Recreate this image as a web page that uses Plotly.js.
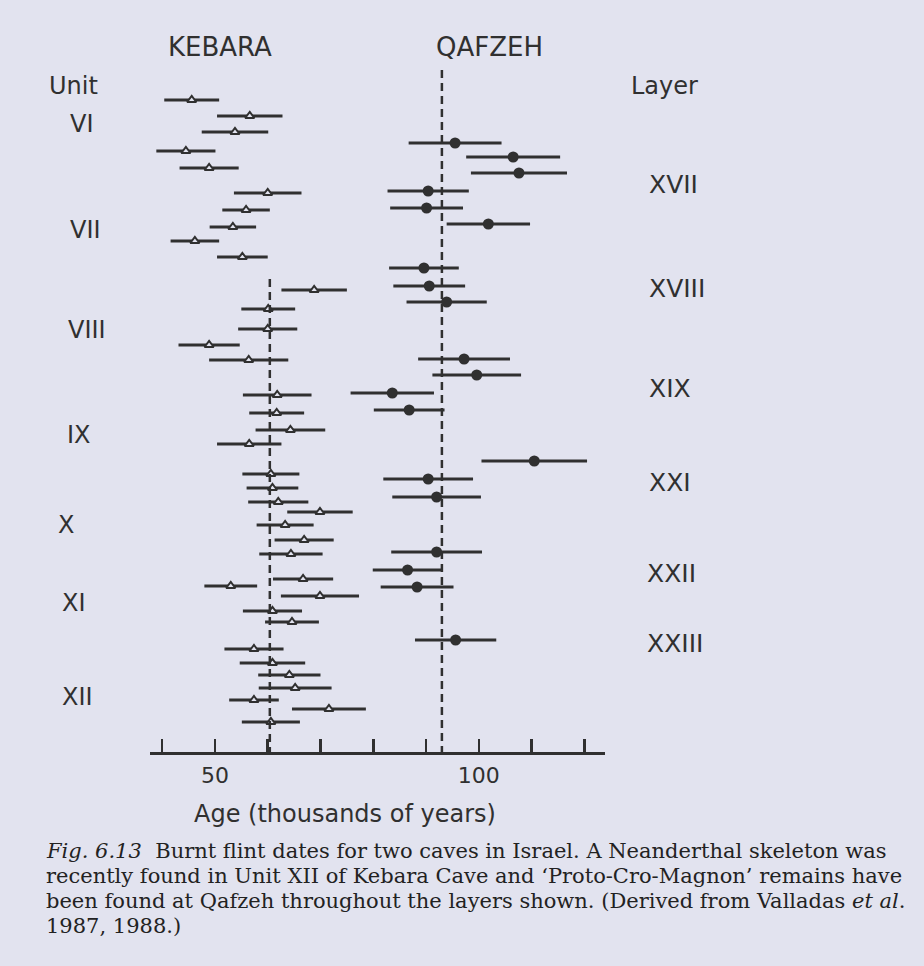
<!DOCTYPE html>
<html>
<head>
<meta charset="utf-8">
<script src="https://cdn.plot.ly/plotly-3.0.1.min.js"></script>
<style>
  html, body { margin: 0; padding: 0; background: #e2e3ef; }
  #chart { width: 924px; height: 966px; }
</style>
</head>
<body>
<div id="chart"></div>
<script>
// ---------------- DATA ----------------
// Kebara: burnt flint dates (thousands of years), error (±), relative depth (top -> bottom)
const kebaraAge = [45.6, 56.6, 53.8, 44.5, 48.9, 60.0, 55.9, 53.4, 46.2, 55.2,
                   68.8, 60.1, 60.0, 48.9, 56.4, 61.8, 61.7, 64.3, 56.5, 60.6,
                   60.9, 62.0, 69.9, 63.3, 66.9, 64.4, 66.7, 53.0, 69.9, 60.9,
                   64.6, 57.4, 60.9, 64.1, 65.2, 57.4, 71.6, 60.6];
const kebaraErr = [5.2, 6.2, 6.3, 5.6, 5.6, 6.4, 4.5, 4.4, 4.6, 4.8,
                   6.2, 5.1, 5.6, 5.8, 7.5, 6.5, 5.2, 6.6, 6.1, 5.4,
                   4.9, 5.7, 6.2, 5.4, 5.6, 6.0, 5.7, 5.0, 7.4, 5.6,
                   5.1, 5.6, 6.2, 5.9, 6.9, 4.7, 7.0, 5.5];
const kebaraDepth = [0.0, 1.6, 3.2, 5.1, 6.8, 9.3, 11.0, 12.7, 14.1, 15.7,
                     19.0, 20.9, 22.9, 24.5, 26.0, 29.5, 31.3, 33.0, 34.4, 37.4,
                     38.8, 40.2, 41.2, 42.5, 44.0, 45.4, 47.9, 48.6, 49.6, 51.1,
                     52.2, 54.9, 56.3, 57.5, 58.8, 60.0, 60.9, 62.2];

// Qafzeh
const qafzehAge = [95.5, 106.5, 107.6, 90.4, 90.1, 101.8, 89.6, 90.6, 93.9, 97.2,
                   99.6, 83.6, 86.8, 110.5, 90.4, 92.0, 92.0, 86.5, 88.3, 95.6];
const qafzehErr = [8.8, 8.9, 9.1, 7.7, 6.9, 7.9, 6.6, 6.8, 7.6, 8.7,
                   8.4, 7.9, 6.7, 10.0, 8.5, 8.4, 8.6, 6.6, 6.9, 7.7];
const qafzehDepth = [4.3, 5.7, 7.3, 9.1, 10.8, 12.4, 16.8, 18.6, 20.2, 25.9,
                     27.5, 29.3, 31.0, 36.1, 37.9, 39.7, 45.2, 47.0, 48.7, 54.0];

// Mean ages (dashed lines)
const kebaraMean = 60.4;
const qafzehMean = 93.0;

// Axis ticks
const tickValues = [40, 50, 60, 70, 80, 90, 100, 110, 120];
const tickLabels = ['', '50', '', '', '', '', '100', '', ''];

// Stratigraphic labels
const kebaraUnits = ['VI', 'VII', 'VIII', 'IX', 'X', 'XI', 'XII'];
const qafzehLayers = ['XVII', 'XVIII', 'XIX', 'XXI', 'XXII', 'XXIII'];

// ---------------- LAYOUT HELPERS ----------------
const W = 924, H = 966;
const PL = 150, PR = 605, PT = 40, PB = 752;
const px = x => (x - PL) / (PR - PL);
const py = y => (PB - y) / (PB - PT);
const ink = '#303030';
const bg = '#e2e3ef';
const sans = 'DejaVu Sans, sans-serif';
const serif = 'DejaVu Serif, Liberation Serif, serif';

const unitPos = [[68,124],[68,230],[66,330],[65,435],[56,525],[60,603],[60,697]];
const layerPos = [[647,185],[647,288],[647,388],[647,483],[645,573],[645,643]];

const traces = [
  {
    type: 'scatter', mode: 'markers',
    x: kebaraAge, y: kebaraDepth,
    error_x: { type: 'data', array: kebaraErr, visible: true, color: ink, thickness: 3, width: 0 },
    marker: { symbol: 'triangle-up', size: 8, color: bg, line: { color: ink, width: 2 } },
    cliponaxis: false, hoverinfo: 'x'
  },
  {
    type: 'scatter', mode: 'markers',
    x: qafzehAge, y: qafzehDepth,
    error_x: { type: 'data', array: qafzehErr, visible: true, color: ink, thickness: 3, width: 0 },
    marker: { symbol: 'circle', size: 11, color: ink, line: { width: 0 } },
    cliponaxis: false, hoverinfo: 'x'
  }
];

const annotations = [];
function txt(text, x, y, size, opts = {}) {
  annotations.push(Object.assign({
    text: text, xref: 'paper', yref: 'paper', x: px(x), y: py(y),
    xanchor: 'center', yanchor: 'middle', showarrow: false,
    font: { family: sans, size: size, color: ink }
  }, opts));
}
txt('KEBARA', 220, 47, 26);
txt('QAFZEH', 489, 47, 26);
txt('Unit', 47, 86, 24, { xanchor: 'left' });
txt('Layer', 629, 86, 24, { xanchor: 'left' });
kebaraUnits.forEach((u, i) => txt(u, unitPos[i][0], unitPos[i][1], 24, { xanchor: 'left' }));
qafzehLayers.forEach((l, i) => txt(l, layerPos[i][0], layerPos[i][1], 25, { xanchor: 'left' }));
txt('Age (thousands of years)', 345, 814, 24);

const capFont = { family: serif, size: 21, color: '#222' };
const capLines = [
  '<i>Fig. 6.13</i>  Burnt flint dates for two caves in Israel. A Neanderthal skeleton was',
  'recently found in Unit XII of Kebara Cave and ‘Proto-Cro-Magnon’ remains have',
  'been found at Qafzeh throughout the layers shown. (Derived from Valladas <i>et al</i>.',
  '1987, 1988.)'
];
capLines.forEach((t, i) => txt(t, 44, 851 + 25 * i, 21, { xanchor: 'left', font: capFont }));

const layout = {
  width: W, height: H,
  paper_bgcolor: bg, plot_bgcolor: bg,
  margin: { l: PL, r: W - PR, t: PT, b: H - PB },
  showlegend: false,
  xaxis: {
    range: [37.7, 123.9], fixedrange: true,
    showgrid: false, zeroline: false,
    showline: true, linecolor: ink, linewidth: 3,
    ticks: 'inside', ticklen: 13, tickwidth: 2.5, tickcolor: ink,
    tickmode: 'array', tickvals: tickValues, ticktext: tickLabels,
    tickfont: { family: sans, size: 22, color: ink },
    ticklabelstandoff: 2
  },
  yaxis: {
    range: [65.2, -6], visible: false, fixedrange: true,
    showgrid: false, zeroline: false
  },
  shapes: [
    { type: 'line', xref: 'x', yref: 'y', x0: kebaraMean, x1: kebaraMean, y0: 17.9, y1: 65.2,
      line: { color: ink, width: 2.5, dash: '8px,5px' } },
    { type: 'line', xref: 'x', yref: 'y', x0: qafzehMean, x1: qafzehMean, y0: -3, y1: 65.2,
      line: { color: ink, width: 2.5, dash: '8px,5px' } }
  ],
  annotations: annotations
};

Plotly.newPlot('chart', traces, layout, { displayModeBar: false, staticPlot: true });
</script>
</body>
</html>
